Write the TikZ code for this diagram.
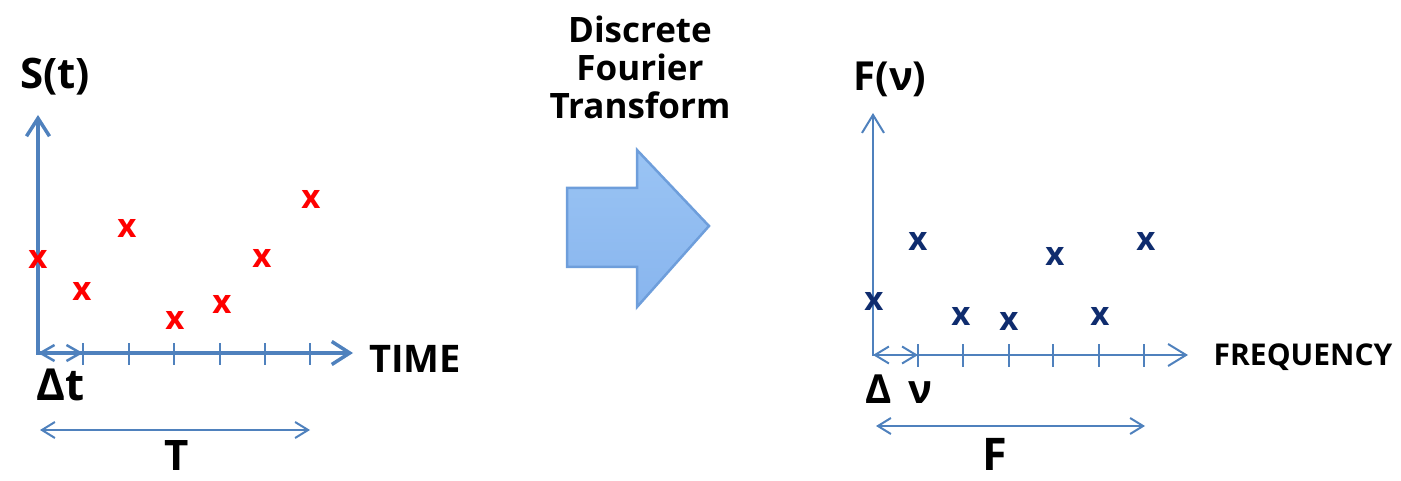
\documentclass[tikz,border=0pt]{standalone}
\usepackage{fontspec}
\setmainfont{Open Sans}
\usetikzlibrary{arrows.meta}
\definecolor{axisblue}{HTML}{4F81BD}
\definecolor{navy}{HTML}{0F2C6E}
\definecolor{redx}{HTML}{FF0000}
\definecolor{arrowtop}{HTML}{9AC4F4}
\definecolor{arrowbot}{HTML}{88B5EE}
\definecolor{arrowedge}{HTML}{6E9EDB}
\begin{document}
\begin{tikzpicture}[x=1pt,y=-1pt,
  lbl/.style={font=\bfseries\fontsize{#1}{#1}\selectfont, inner sep=0pt, anchor=base},
  xr/.style={font=\bfseries\fontsize{33}{33}\selectfont, text=redx, inner sep=0pt},
  xb/.style={font=\bfseries\fontsize{33}{33}\selectfont, text=navy, inner sep=0pt},
  axisL/.style={draw=axisblue, line width=3.5pt, line join=miter,
    {Straight Barb[length=18pt,width=23pt]}-{Straight Barb[length=18pt,width=23pt]}},
  tickL/.style={draw=axisblue, line width=2.5pt},
  dimL/.style={draw=axisblue, line width=2.5pt,
    {Straight Barb[length=14pt,width=16pt]}-{Straight Barb[length=14pt,width=16pt]}},
  dimT/.style={draw=axisblue, line width=2pt,
    {Straight Barb[length=13pt,width=16pt]}-{Straight Barb[length=13pt,width=16pt]}},
  axisR/.style={draw=axisblue, line width=2pt, line join=miter,
    {Straight Barb[length=18pt,width=22pt]}-{Straight Barb[length=18pt,width=22pt]}},
  tickR/.style={draw=axisblue, line width=2pt},
  dimR/.style={draw=axisblue, line width=2pt,
    {Straight Barb[length=14pt,width=17pt]}-{Straight Barb[length=14pt,width=17pt]}},
  bigarrow/.style={draw=arrowedge, line width=2.5pt, line join=miter,
    top color=arrowtop, bottom color=arrowbot}
]
\useasboundingbox (0,0) rectangle (1401,481);

% ---------- left plot ----------
\coordinate (O1) at (38,353);
\coordinate (Y1) at (38,115);
\coordinate (X1) at (353,353);
\coordinate (D1) at (83,353);
\coordinate (TA) at (40,430);
\coordinate (TB) at (310,430);
\draw[axisL] (Y1) -- (O1) -- (X1);
\foreach \t in {83,129,174,220,265,310} \draw[tickL] (\t,343) -- (\t,365);
\draw[dimL] (O1) -- (D1);
\draw[dimT] (TA) -- (TB);

\node[lbl=42] (St) at (55,89) {S(t)};
\node[lbl=38] (time) at (415,372) {TIME};
\node[lbl=44] (dt) at (61,400) {Δt};
\node[lbl=42] (T) at (177,470) {T};

\node[xr] (r1) at (38,259) {x};
\node[xr] (r2) at (82,291) {x};
\node[xr] (r3) at (127,228) {x};
\node[xr] (r4) at (175,320) {x};
\node[xr] (r5) at (222,304) {x};
\node[xr] (r6) at (262,258) {x};
\node[xr] (r7) at (311,199) {x};

% ---------- transform arrow ----------
\node[lbl=35, align=center] (dft) at (640,119) {Discrete\\[3pt]Fourier\\[3pt]Transform};
\draw[bigarrow] (567,188) -- (637,188) -- (637,150) -- (709,226) -- (637,307)
  -- (637,267) -- (567,267) -- cycle;

% ---------- right plot ----------
\coordinate (O2) at (873,355);
\coordinate (Y2) at (873,113);
\coordinate (X2) at (1188,355);
\coordinate (D2) at (918,355);
\coordinate (FA) at (876,426);
\coordinate (FB) at (1145,426);
\draw[axisR] (Y2) -- (O2) -- (X2);
\foreach \t in {918,963,1009,1053,1099,1144} \draw[tickR] (\t,344) -- (\t,367);
\draw[dimR] (O2) -- (D2);
\draw[dimT] (FA) -- (FB);

\node[lbl=40] (Fnu) at (890,91) {F(ν)};
\node[lbl=30] (freq) at (1303,365) {FREQUENCY};
\node[lbl=40] (dnu) at (899,403) {Δ\hspace{0.4em}ν};
\node[lbl=45] (F) at (995,470) {F};

\node[xb] (b1) at (874,301) {x};
\node[xb] (b2) at (918,241) {x};
\node[xb] (b3) at (961,316) {x};
\node[xb] (b4) at (1009,321) {x};
\node[xb] (b5) at (1055,256) {x};
\node[xb] (b6) at (1100,316) {x};
\node[xb] (b7) at (1146,241) {x};
\end{tikzpicture}
\end{document}
